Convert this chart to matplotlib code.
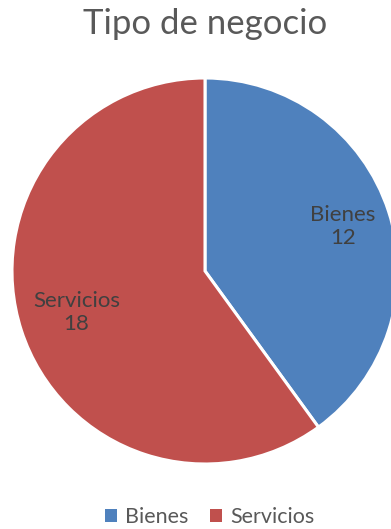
import matplotlib
matplotlib.use("Agg")
import matplotlib.pyplot as plt
import numpy as np
from matplotlib.patches import Patch

categories = ["Bienes", "Servicios"]
values = [12, 18]
colors = ["#4F81BD", "#C0504D"]
title = "Tipo de negocio"

plt.rcParams["font.family"] = ["Lato", "DejaVu Sans"]

W, H = 391, 529
fig = plt.figure(figsize=(W / 100, H / 100), dpi=100)
fig.patch.set_facecolor("white")

# pie centre and radius in pixels
cx, cy, r = 205, 271, 193
ax = fig.add_axes([(cx - r) / W, (H - cy - r) / H, 2 * r / W, 2 * r / H])

wedges, _ = ax.pie(values, colors=colors, startangle=90, counterclock=False,
                   radius=1, wedgeprops=dict(edgecolor="white", linewidth=2.2))
ax.set_xlim(-1, 1)
ax.set_ylim(-1, 1)
ax.set_aspect("equal")
ax.axis("off")
for w in wedges:
    w.set_clip_on(False)

label_dist = [0.75, 0.70]
for w, name, v, d in zip(wedges, categories, values, label_dist):
    ang = np.deg2rad((w.theta1 + w.theta2) / 2)
    ax.text(d * np.cos(ang), d * np.sin(ang), f"{name}\n{v}", ha="center",
            va="center", fontsize=16, color="#404040", linespacing=1.2)

fig.text(cx / W, 1 - 24 / H, title, ha="center", va="center",
         fontsize=25, color="#595959")

handles = [Patch(facecolor=c, edgecolor="none") for c in colors]
fig.legend(handles, categories, loc="center", bbox_to_anchor=(210 / W, 1 - 517 / H),
           ncol=2, frameon=False, fontsize=15.5, handlelength=0.55, handleheight=0.55,
           handletextpad=0.4, columnspacing=1.0, labelcolor="#595959")

fig.savefig("out.png", dpi=100, facecolor="white")
